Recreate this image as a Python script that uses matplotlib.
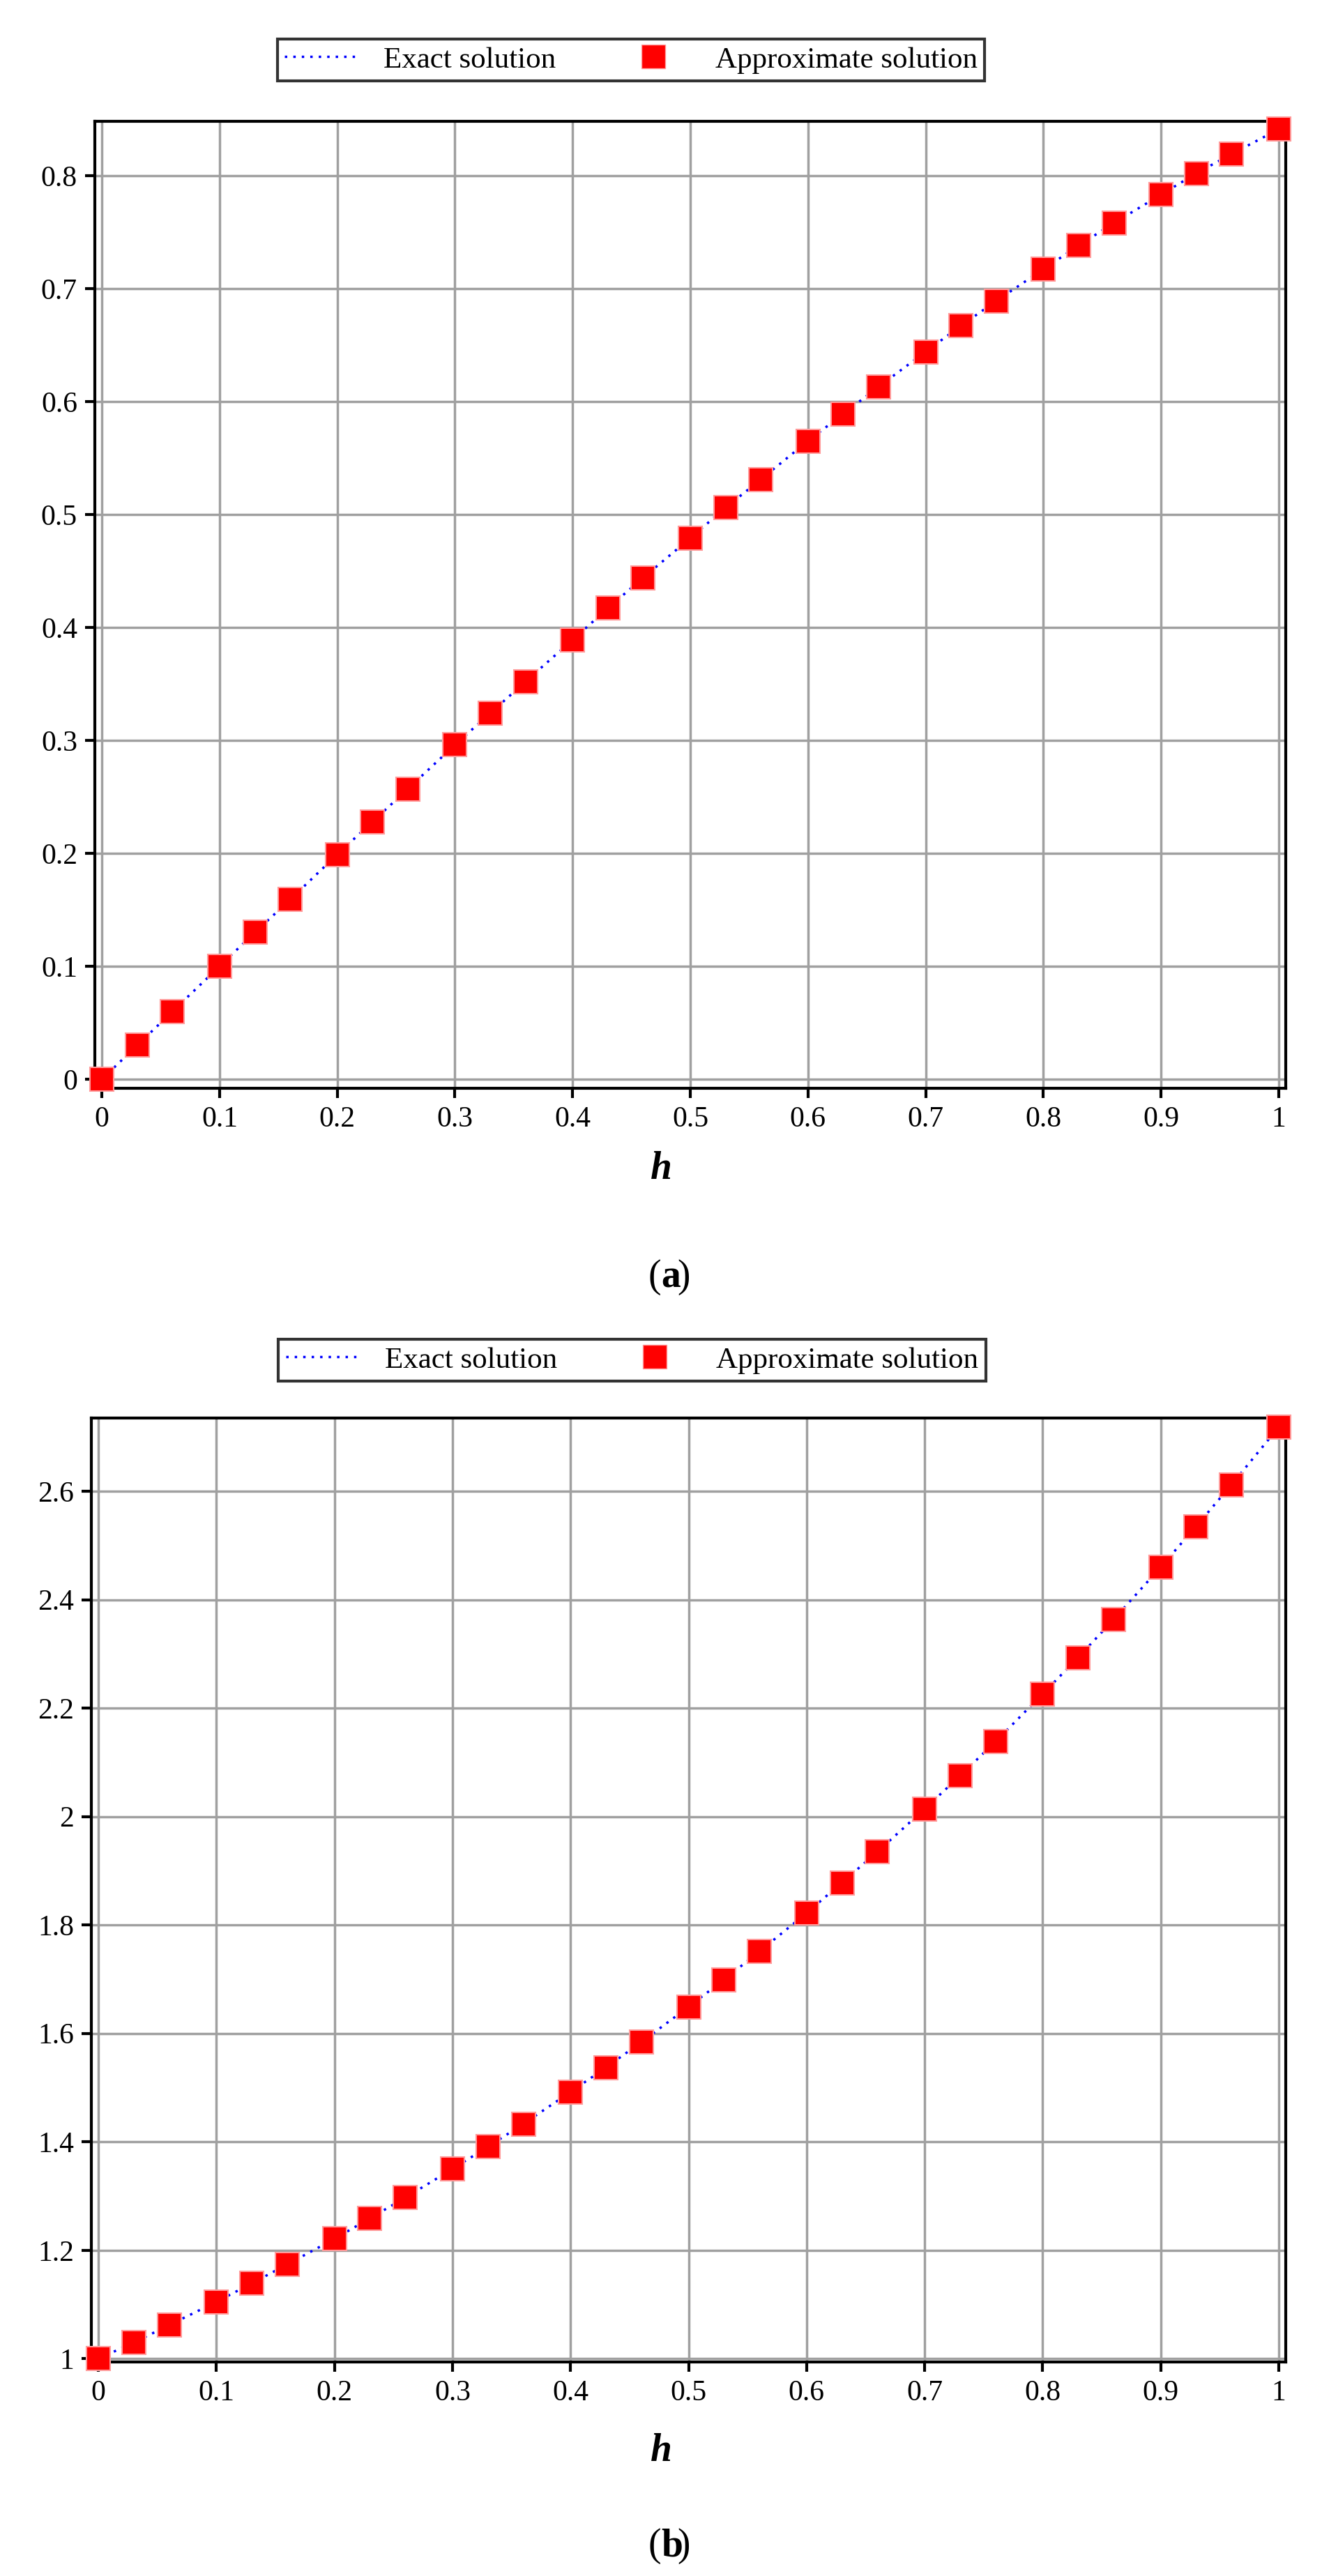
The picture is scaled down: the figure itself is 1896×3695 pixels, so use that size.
import matplotlib
matplotlib.use("Agg")
import matplotlib.pyplot as plt
from matplotlib.lines import Line2D

plt.rcParams['font.family'] = ['Liberation Serif', 'DejaVu Serif']

h = [0, 0.03, 0.06, 0.1, 0.13, 0.16, 0.2, 0.23, 0.26, 0.3, 0.33, 0.36, 0.4, 0.43, 0.46,
     0.5, 0.53, 0.56, 0.6, 0.63, 0.66, 0.7, 0.73, 0.76, 0.8, 0.83, 0.86, 0.9, 0.93, 0.96, 1.0]

# panel (a)
exact_a = [0.0, 0.030, 0.060, 0.100, 0.130, 0.159, 0.199, 0.228, 0.257, 0.296, 0.324, 0.352,
           0.389, 0.417, 0.444, 0.479, 0.506, 0.531, 0.565, 0.589, 0.613, 0.644, 0.667, 0.689,
           0.717, 0.738, 0.758, 0.783, 0.802, 0.819, 0.841]
approx_a = list(exact_a)

# panel (b)
exact_b = [1.0, 1.030, 1.062, 1.105, 1.139, 1.174, 1.221, 1.259, 1.297, 1.350, 1.391, 1.433,
           1.492, 1.537, 1.584, 1.649, 1.699, 1.751, 1.822, 1.878, 1.935, 2.014, 2.075, 2.138,
           2.226, 2.293, 2.363, 2.460, 2.535, 2.612, 2.718]
approx_b = list(exact_b)

W, H = 1896, 3695
fig = plt.figure(figsize=(W / 100, H / 100), dpi=100)


def px(x0, y0, x1, y1):
    return [x0 / W, 1 - y1 / H, (x1 - x0) / W, (y1 - y0) / H]


def panel(rect, yex, yap, ylim, yticks, yticklabels, leg_rect, label_y, tag, tag_y):
    ax = fig.add_axes(rect)
    ax.plot(h, yex, linestyle=(0, (1, 2.5)), color='blue', lw=2.5, zorder=2)
    ax.plot(h, yap, linestyle='none', marker='s', markersize=25, color='red',
            markeredgecolor='#ff9a9a', markeredgewidth=1.5, zorder=3, clip_on=False)
    ax.set_xlim(-0.006, 1.006)
    ax.set_ylim(*ylim)
    ax.set_xticks([i / 10 for i in range(11)])
    ax.set_xticklabels(['0', '0.1', '0.2', '0.3', '0.4', '0.5', '0.6', '0.7', '0.8', '0.9', '1'])
    ax.set_yticks(yticks)
    ax.set_yticklabels(yticklabels)
    ax.grid(True, color='#a0a0a0', lw=2.5)
    ax.set_axisbelow(True)
    for s in ax.spines.values():
        s.set_linewidth(3)
    ax.tick_params(direction='out', length=10, width=3, labelsize=30, pad=8)
    fig.text(0.5, 1 - label_y / H, 'h', ha='center', va='center', fontsize=40,
             style='italic', weight='bold')
    fig.text(0.5, 1 - tag_y / H, '(', ha='right', va='center', fontsize=40)
    fig.text(0.5, 1 - tag_y / H, tag, ha='left', va='center', fontsize=40, weight='bold')
    fig.text(0.5 + 0.0125, 1 - tag_y / H, ')', ha='left', va='center', fontsize=40)

    lax = fig.add_axes(leg_rect)
    lax.axis('off')
    handles = [Line2D([], [], linestyle=(0, (1, 2.5)), color='blue', lw=2.5),
               Line2D([], [], linestyle='none', marker='s', markersize=25, color='red',
                      markeredgecolor='#ff9a9a')]
    leg = lax.legend(handles, ['Exact solution', 'Approximate solution'], loc='center',
                     ncol=2, fontsize=31, frameon=True, fancybox=False, edgecolor='black',
                     handlelength=2.5, columnspacing=2.0, borderpad=0.25)
    leg.get_frame().set_linewidth(3)


panel(px(136, 174, 1844, 1561), exact_a, approx_a, (-0.008, 0.848),
      [0, 0.1, 0.2, 0.3, 0.4, 0.5, 0.6, 0.7, 0.8],
      ['0', '0.1', '0.2', '0.3', '0.4', '0.5', '0.6', '0.7', '0.8'],
      px(297, 48, 1513, 124), 1677, 'a', 1832)

panel(px(131, 2034, 1844, 3388), exact_b, approx_b, (0.994, 2.735),
      [1, 1.2, 1.4, 1.6, 1.8, 2, 2.2, 2.4, 2.6],
      ['1', '1.2', '1.4', '1.6', '1.8', '2', '2.2', '2.4', '2.6'],
      px(333, 1915, 1480, 1987), 3516, 'b', 3652)

fig.savefig('out.png', dpi=100)
